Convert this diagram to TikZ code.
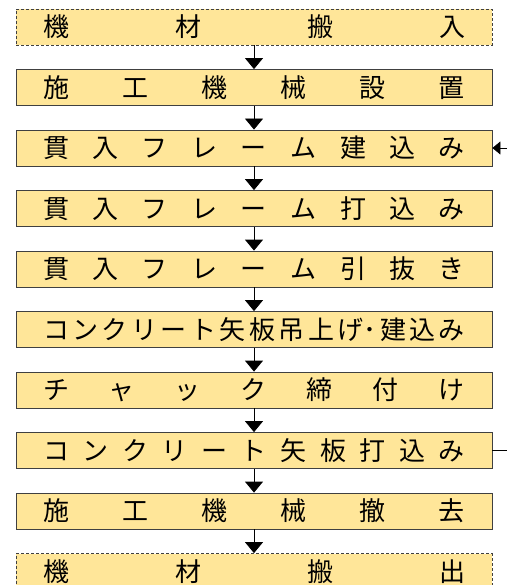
\documentclass[tikz,border=0pt]{standalone}
\usepackage{fontspec}
\usetikzlibrary{arrows.meta}
\newfontfamily\jpfont{Noto Sans CJK JP}
\definecolor{boxfill}{HTML}{FFE699}
\definecolor{boxline}{HTML}{404040}
\newcommand{\spread}[1]{\makebox[422pt][s]{#1}}

\begin{document}
\begin{tikzpicture}
      [x = 1pt, y = -1pt,
        stepbox/.style={rectangle, draw = boxline, line width = .8pt, fill = boxfill,
          minimum width = 476pt, minimum height = 36pt, inner sep = 0pt,
          font = \jpfont\fontsize{26pt}{26pt}\selectfont},
        movebox/.style={stepbox, dash pattern = on 3pt off 2pt},
        flow/.style={line width = .8pt, -{Triangle[width=18pt, length=11pt]}},
        back/.style={line width = .8pt, -{Triangle[width=13pt, length=8pt]}}]
      \useasboundingbox (0,0) rectangle (507,585);
      % steps
      \node[movebox] (b1) at (254,27) {\spread{機\hfill 材\hfill 搬\hfill 入}};
      \node[stepbox] (b2) at (254,87.5) {\spread{施\hfill 工\hfill 機\hfill 械\hfill 設\hfill 置}};
      \node[stepbox] (b3) at (254,148) {\spread{貫\hfill 入\hfill フ\hfill レ\hfill ー\hfill ム\hfill 建\hfill 込\hfill み}};
      \node[stepbox] (b4) at (254,208.5) {\spread{貫\hfill 入\hfill フ\hfill レ\hfill ー\hfill ム\hfill 打\hfill 込\hfill み}};
      \node[stepbox] (b5) at (254,269) {\spread{貫\hfill 入\hfill フ\hfill レ\hfill ー\hfill ム\hfill 引\hfill 抜\hfill き}};
      \node[stepbox] (b6) at (254,329.5) {\spread{コ\hfill ン\hfill ク\hfill リ\hfill ー\hfill ト\hfill 矢\hfill 板\hfill 吊\hfill 上\hfill げ･\hfill 建\hfill 込\hfill み}};
      \node[stepbox] (b7) at (254,390) {\spread{チ\hfill ャ\hfill ッ\hfill ク\hfill 締\hfill 付\hfill け}};
      \node[stepbox] (b8) at (254,450.5) {\spread{コ\hfill ン\hfill ク\hfill リ\hfill ー\hfill ト\hfill 矢\hfill 板\hfill 打\hfill 込\hfill み}};
      \node[stepbox] (b9) at (254,511) {\spread{施\hfill 工\hfill 機\hfill 械\hfill 撤\hfill 去}};
      \node[movebox] (b10) at (254,571.5) {\spread{機\hfill 材\hfill 搬\hfill 出}};
      % flow
      \draw[flow] (b1) -- (b2);
      \draw[flow] (b2) -- (b3);
      \draw[flow] (b3) -- (b4);
      \draw[flow] (b4) -- (b5);
      \draw[flow] (b5) -- (b6);
      \draw[flow] (b6) -- (b7);
      \draw[flow] (b7) -- (b8);
      \draw[flow] (b8) -- (b9);
      \draw[flow] (b9) -- (b10);
      % repeat
      \coordinate (r8) at (507,450.5);
      \coordinate (r3) at (507,148);
      \draw[line width = .8pt] (b8.east) -- (r8);
      \draw[back] (r3) -- (b3.east);
    \end{tikzpicture}
\end{document}
